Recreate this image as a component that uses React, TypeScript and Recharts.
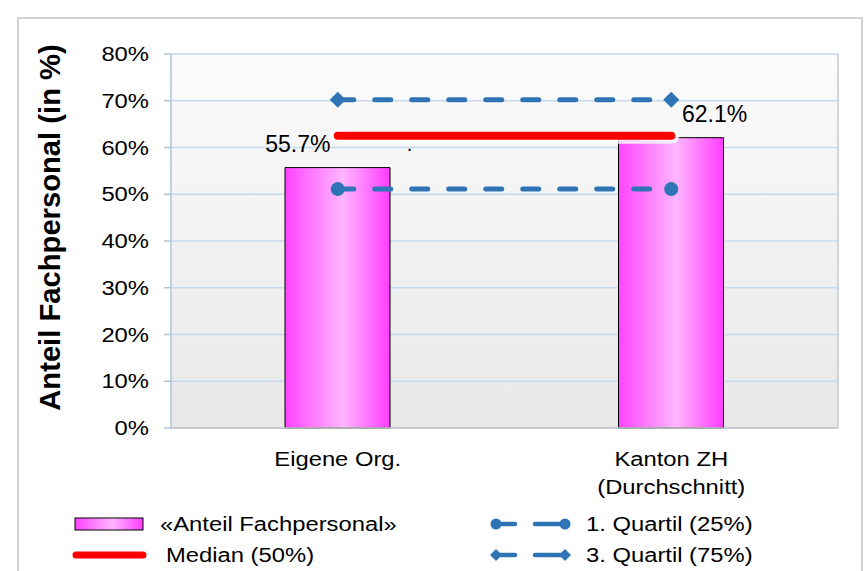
import React from 'react';
import { ComposedChart, Bar, Line, XAxis, YAxis, CartesianGrid, LabelList } from 'recharts';

const categories = ['Eigene Org.', 'Kanton ZH\n(Durchschnitt)'];
const anteilFachpersonal = [55.7, 62.1];
const quartil1 = [51.1, 51.1];
const medianValues = [62.5, 62.5];
const quartil3 = [70.2, 70.2];
const yTicks = [0, 10, 20, 30, 40, 50, 60, 70, 80];
const edgeTicks = [0, 1, 2];

const legendLabels = ['«Anteil Fachpersonal»', 'Median (50%)', '1. Quartil (25%)', '3. Quartil (75%)'];
const yAxisTitle = 'Anteil Fachpersonal (in %)';

const data = categories.map((name, i) => ({
  name,
  anteil: anteilFachpersonal[i],
  q1: quartil1[i],
  median: medianValues[i],
  q3: quartil3[i],
}));

const FONT = '"Liberation Sans", Arial, Helvetica, sans-serif';
const BLUE = '#2f74b5';
const RED = '#ff0000';
const SX = 1.19;

const StretchText = ({ x, y, anchor = 'start', size = 20, children, weight = 'normal' }: any) => (
  <g transform={`translate(${x},${y}) scale(${SX},1)`}>
    <text x={0} y={0} textAnchor={anchor} fontSize={size} fontFamily={FONT} fontWeight={weight} fill="#000">
      {children}
    </text>
  </g>
);

const YTick = (props: any) => {
  const { x, y, payload } = props;
  return <StretchText x={x} y={y + 7} anchor="end">{`${payload.value}%`}</StretchText>;
};

const XTick = (props: any) => {
  const { x, y, payload } = props;
  const lines = String(payload.value).split('\n');
  return (
    <g>
      {lines.map((l, i) => (
        <StretchText key={i} x={x} y={y + 38 + i * 28} anchor="middle">{l}</StretchText>
      ))}
    </g>
  );
};

const BarLabel = (props: any) => {
  const { x, y, width, value, index } = props;
  const cx = x + width / 2;
  const anchor = index === 0 ? 'end' : 'start';
  const lx = index === 0 ? cx - 7 : cx + 11;
  return (
    <text x={lx} y={y - 16} textAnchor={anchor} fontSize={23} fontFamily={FONT} fill="#000">
      {`${Number(value).toFixed(1)}%`}
    </text>
  );
};

const MedianDotLabel = (props: any) => {
  const { x, y, index } = props;
  if (index !== 0) return null;
  return (
    <text x={x + 69} y={y + 15} fontSize={20} fontFamily={FONT} fill="#000">.</text>
  );
};

const CircleDot = (p: any) => <circle key={`c-${p.index}`} cx={p.cx} cy={p.cy} r={7} fill={BLUE} />;
const DiamondDot = (p: any) => {
  const s = 8;
  return (
    <path
      key={`d-${p.index}`}
      d={`M${p.cx},${p.cy - s} L${p.cx + s},${p.cy} L${p.cx},${p.cy + s} L${p.cx - s},${p.cy} Z`}
      fill={BLUE}
    />
  );
};

const Overlay = () => (
  <svg width={864} height={571} style={{ position: 'absolute', left: 0, top: 0, pointerEvents: 'none' }}>
    <defs>
      <linearGradient id="legBarGrad" x1="0" y1="0" x2="1" y2="0">
        <stop offset="0%" stopColor="#ff44ff" />
        <stop offset="55%" stopColor="#ffb6ff" />
        <stop offset="100%" stopColor="#ff3cff" />
      </linearGradient>
    </defs>
    <path d="M18,571 L18,18 L862,18 L862,571" fill="none" stroke="#d2d2d2" strokeWidth={2} />
    <rect x={75} y={518} width={68} height={12} fill="url(#legBarGrad)" stroke="#000" strokeWidth={1} />
    <StretchText x={160} y={531}>{legendLabels[0]}</StretchText>
    <line x1={76} y1={555} x2={143} y2={555} stroke={RED} strokeWidth={7} strokeLinecap="round" />
    <StretchText x={166} y={562}>{legendLabels[1]}</StretchText>
    <line x1={496} y1={524} x2={515} y2={524} stroke={BLUE} strokeWidth={4.5} strokeLinecap="round" />
    <line x1={535} y1={524} x2={565} y2={524} stroke={BLUE} strokeWidth={4.5} strokeLinecap="round" />
    <circle cx={496} cy={524} r={5.5} fill={BLUE} />
    <circle cx={565} cy={524} r={5.5} fill={BLUE} />
    <StretchText x={586} y={531}>{legendLabels[2]}</StretchText>
    <line x1={496} y1={555} x2={515} y2={555} stroke={BLUE} strokeWidth={4.5} strokeLinecap="round" />
    <line x1={535} y1={555} x2={565} y2={555} stroke={BLUE} strokeWidth={4.5} strokeLinecap="round" />
    <path d="M496,549 L502,555 L496,561 L490,555 Z" fill={BLUE} />
    <path d="M565,549 L571,555 L565,561 L559,555 Z" fill={BLUE} />
    <StretchText x={586} y={562}>{legendLabels[3]}</StretchText>
  </svg>
);

export default function App() {
  return (
    <div style={{ position: 'absolute', left: 0, top: 0, width: 864, height: 571, background: '#fff', overflow: 'hidden' }}>
      <ComposedChart width={864} height={571} data={data} margin={{ top: 54, right: 0, bottom: 63, left: 0 }}>
        <defs>
          <linearGradient id="plotBg" x1="0" y1="0" x2="0" y2="1">
            <stop offset="0%" stopColor="#fbfbfb" />
            <stop offset="100%" stopColor="#e8e8e8" />
          </linearGradient>
          <linearGradient id="barGrad" x1="0" y1="0" x2="1" y2="0">
            <stop offset="0%" stopColor="#ff44ff" />
            <stop offset="55%" stopColor="#ffb6ff" />
            <stop offset="100%" stopColor="#ff3cff" />
          </linearGradient>
        </defs>
        <CartesianGrid vertical={false} stroke="#c6d9ef" strokeWidth={1.5} fill="url(#plotBg)" fillOpacity={1} />
        <XAxis
          xAxisId="edges"
          type="number"
          domain={[0, 2]}
          ticks={edgeTicks}
          tick={false}
          axisLine={false}
          tickLine={{ stroke: '#c4c4c4', strokeWidth: 1.5 }}
          tickSize={8}
          height={0}
        />
        <XAxis
          dataKey="name"
          axisLine={{ stroke: '#c4c4c4', strokeWidth: 1.5 }}
          tickLine={false}
          tickSize={0}
          tickMargin={0}
          tick={<XTick />}
          height={80}
          interval={0}
        />
        <YAxis
          domain={[0, 80]}
          ticks={yTicks}
          width={171}
          tickSize={7}
          tickMargin={15}
          axisLine={{ stroke: '#aec3dc', strokeWidth: 1.5 }}
          tickLine={{ stroke: '#aec3dc', strokeWidth: 1.5 }}
          tick={<YTick />}
          interval={0}
          label={{
            content: () => (
              <text
                transform="translate(60,227.5) rotate(-90)"
                textAnchor="middle"
                fontSize={29.2}
                fontWeight="bold"
                fontFamily={FONT}
                fill="#000"
              >
                {yAxisTitle}
              </text>
            ),
          }}
        />
        <YAxis
          yAxisId="right"
          orientation="right"
          domain={[0, 80]}
          width={26}
          tick={false}
          tickLine={false}
          axisLine={{ stroke: '#bccbdd', strokeWidth: 1.5 }}
        />
        <Bar dataKey="anteil" barSize={105} fill="url(#barGrad)" stroke="#000" strokeWidth={1} isAnimationActive={false}>
          <LabelList dataKey="anteil" content={<BarLabel />} />
        </Bar>
        <Line
          dataKey="q3"
          stroke={BLUE}
          strokeWidth={5}
          strokeDasharray="16 21"
          strokeLinecap="round"
          dot={DiamondDot}
          activeDot={false}
          isAnimationActive={false}
        />
        <Line
          dataKey="q1"
          stroke={BLUE}
          strokeWidth={5}
          strokeDasharray="16 21"
          strokeLinecap="round"
          dot={CircleDot}
          activeDot={false}
          isAnimationActive={false}
        />
        <Line
          dataKey="median"
          stroke="#ffffff"
          strokeOpacity={0.8}
          strokeWidth={16}
          strokeLinecap="round"
          dot={false}
          activeDot={false}
          isAnimationActive={false}
        />
        <Line
          dataKey="median"
          stroke={RED}
          strokeWidth={8}
          strokeLinecap="round"
          dot={false}
          activeDot={false}
          isAnimationActive={false}
        >
          <LabelList dataKey="median" content={<MedianDotLabel />} />
        </Line>
      </ComposedChart>
      <Overlay />
    </div>
  );
}
